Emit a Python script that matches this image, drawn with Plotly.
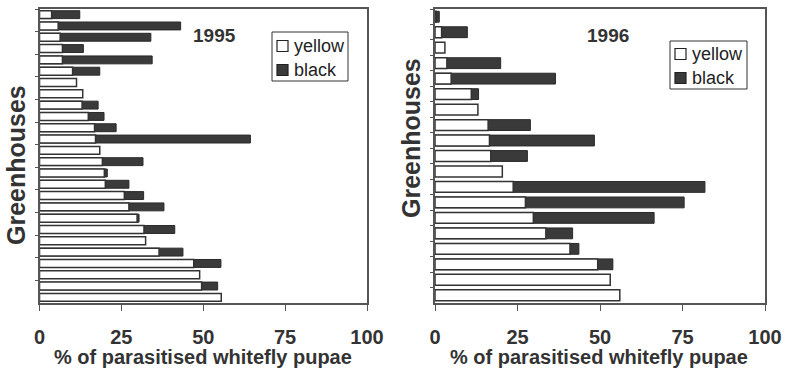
import plotly.graph_objects as go

# Percentage of parasitised whitefly pupae per greenhouse, yellow vs black cards
houses_1995 = [f"G{i}" for i in range(1, 27)]
yellow_1995 = [3.7, 5.7, 6.3, 7.0, 7.0, 10.1, 11.3, 13.2, 13.0, 14.9, 16.8, 17.1, 18.4,
               19.2, 19.8, 20.1, 25.9, 27.3, 29.8, 31.9, 32.4, 36.5, 47.1, 48.9, 49.5, 55.5]
black_1995 = [12.3, 43.1, 34.0, 13.4, 34.4, 18.4, None, None, 17.9, 19.7, 23.4, 64.4, None,
              31.6, 20.7, 27.3, 31.8, 38.0, 30.4, 41.3, None, 43.8, 55.4, None, 54.4, None]

houses_1996 = [f"G{i}" for i in range(1, 20)]
yellow_1996 = [0.4, 2.0, 3.0, 3.6, 4.9, 11.0, 13.0, 16.1, 16.5, 16.9, 20.4, 23.7, 27.4,
               29.8, 33.6, 40.9, 49.3, 53.1, 56.0]
black_1996 = [1.3, 9.8, None, 19.9, 36.5, 13.2, None, 28.9, 48.3, 28.0, None, 81.8, 75.5,
              66.4, 41.7, 43.6, 53.9, None, None]

x_ticks = [0, 25, 50, 75, 100]
series_names = ["yellow", "black"]

TXT = "#333333"
LINE = "#555555"
DARK = "#3a3a3a"
FONT = "Liberation Sans, Arial, sans-serif"

W, H = 786, 368


def px(x):
    return x / W


def py(y):
    return 1 - y / H


fig = go.Figure()

panels = [
    (houses_1995, yellow_1995, black_1995, "x", "y"),
    (houses_1996, yellow_1996, black_1996, "x2", "y2"),
]
for houses, yellow, black, xa, ya in panels:
    # black cards drawn behind, yellow cards overlaid in front
    fig.add_trace(go.Bar(
        y=houses, x=black, orientation="h", name="black", showlegend=False,
        xaxis=xa, yaxis=ya, width=0.7,
        marker=dict(color=DARK, line=dict(color="#2a2a2a", width=1)),
    ))
    fig.add_trace(go.Bar(
        y=houses, x=yellow, orientation="h", name="yellow", showlegend=False,
        xaxis=xa, yaxis=ya, width=0.7,
        marker=dict(color="white", line=dict(color="#333333", width=1.5)),
    ))

xcommon = dict(
    range=[0, 100], tickvals=x_ticks, ticktext=[str(v) for v in x_ticks],
    ticks="outside", ticklen=6, tickcolor=LINE, tickwidth=1.2,
    showline=True, linecolor=LINE, linewidth=1.5, mirror=True,
    showgrid=False, zeroline=False, fixedrange=True, automargin=False,
    tickfont=dict(family=FONT, size=20, color=TXT, weight="bold"),
    ticklabelstandoff=9,
)
ycommon = dict(
    type="category", autorange="reversed", showticklabels=False,
    ticks="outside", ticklen=3, tickson="boundaries", tickcolor=LINE,
    showline=True, linecolor=LINE, linewidth=1.5, mirror=True,
    showgrid=False, zeroline=False, fixedrange=True, automargin=False,
    domain=[py(303), py(9)],
)

fig.update_layout(
    width=W, height=H,
    margin=dict(l=0, r=0, t=0, b=0, autoexpand=False),
    paper_bgcolor="white", plot_bgcolor="white",
    barmode="overlay",
    showlegend=False,
    xaxis=dict(domain=[px(39.5), px(367)], anchor="y", **xcommon),
    yaxis=dict(anchor="x", **ycommon),
    xaxis2=dict(domain=[px(435), px(765)], anchor="y2", **xcommon),
    yaxis2=dict(anchor="x2", **ycommon),
)

# Legend boxes: (box left, top, right, bottom, swatch left, swatch size, row centres)
legend_boxes = [
    (272, 32, 348, 81, 277, 11, [46, 70]),
    (670, 41, 747, 89, 675, 11, [54, 78]),
]
swatch_fill = {"yellow": "white", "black": DARK}
legend_font = dict(family=FONT, size=18, color="#222222")
for x0, y0, x1, y1, sx, ss, rows in legend_boxes:
    fig.add_shape(type="rect", xref="paper", yref="paper",
                  x0=px(x0), x1=px(x1), y0=py(y1), y1=py(y0),
                  line=dict(color="#333333", width=1), fillcolor="white", layer="above")
    for name, cy in zip(series_names, rows):
        fig.add_shape(type="rect", xref="paper", yref="paper",
                      x0=px(sx), x1=px(sx + ss), y0=py(cy + ss / 2), y1=py(cy - ss / 2),
                      line=dict(color="#222222", width=1.2), fillcolor=swatch_fill[name],
                      layer="above")
        fig.add_annotation(text=name, x=px(sx + ss + 4), y=py(cy), xref="paper", yref="paper",
                           showarrow=False, xanchor="left", yanchor="middle", font=legend_font)

title_font = dict(family=FONT, size=19, color=TXT, weight="bold")
axis_font = dict(family=FONT, size=20, color=TXT, weight="bold")
ytitle_font = dict(family=FONT, size=25, color=TXT, weight="bold")

annotations = [
    dict(text="1995", x=px(214), y=py(35), font=title_font),
    dict(text="1996", x=px(608), y=py(35), font=title_font),
    dict(text="% of parasitised whitefly pupae", x=px(203), y=py(357), font=axis_font),
    dict(text="% of parasitised whitefly pupae", x=px(599), y=py(357), font=axis_font),
    dict(text="Greenhouses", x=px(16), y=py(165), textangle=-90, font=ytitle_font),
    dict(text="Greenhouses", x=px(411), y=py(138), textangle=-90, font=ytitle_font),
]
for a in annotations:
    fig.add_annotation(xref="paper", yref="paper", showarrow=False,
                       xanchor="center", yanchor="middle", **a)

fig.write_html("out.html")
